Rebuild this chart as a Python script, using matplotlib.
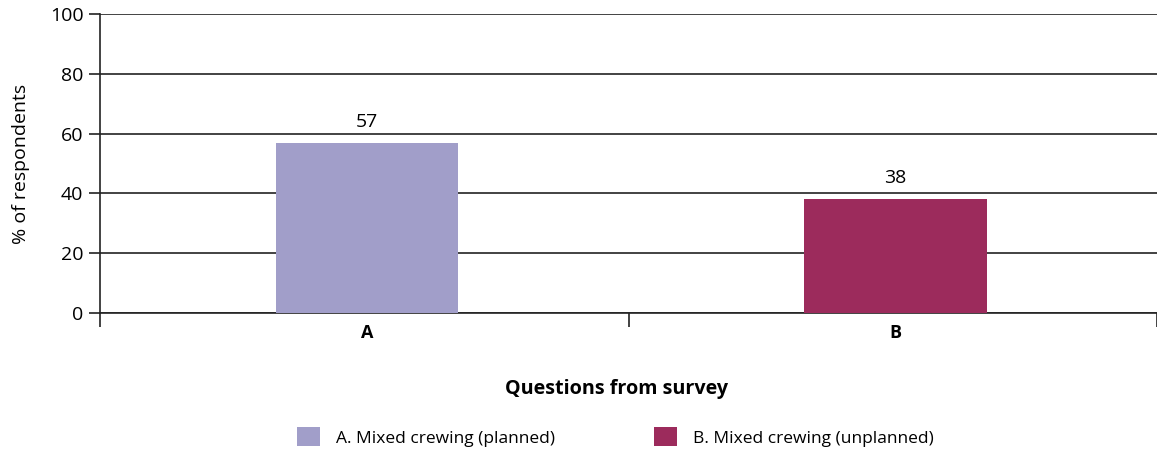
import matplotlib.pyplot as plt
from matplotlib.patches import Patch

plt.rcParams['font.family'] = ['Open Sans', 'DejaVu Sans']

categories = ['A', 'B']
values = [57, 38]
legend_labels = ['A. Mixed crewing (planned)', 'B. Mixed crewing (unplanned)']
colors = ['#a19ec9', '#9c2b5c']

fig = plt.figure(figsize=(11.57, 4.54), dpi=100)
ax = fig.add_axes([100 / 1157, 1 - 313 / 454, 1057 / 1157, 299 / 454])

x = range(len(categories))
bars = ax.bar([i + 0.005 for i in x], values, width=0.345, color=colors, zorder=3)
for b, v in zip(bars, values):
    ax.text(b.get_x() + b.get_width() / 2, v + 4, str(v),
            ha='center', va='bottom', fontsize=14)

ax.set_xlim(-0.5, 1.5)
ax.set_ylim(0, 100)
ax.set_yticks(range(0, 101, 20))
ax.yaxis.grid(True, color='#222222', linewidth=1.2, zorder=0)
ax.tick_params(axis='y', length=8, width=1.2, labelsize=14, color='#222222', pad=4)

# category ticks sit between the bars, labels at bar centres
ax.set_xticks([-0.5, 0.5, 1.5])
ax.set_xticklabels([])
ax.set_xticks([i + 0.005 for i in x], minor=True)
ax.set_xticklabels(categories, minor=True, fontweight='bold', fontsize=13)
ax.tick_params(axis='x', which='major', length=10, width=1.2, color='#222222')
ax.tick_params(axis='x', which='minor', length=0, pad=8)

for s in ['top', 'right']:
    ax.spines[s].set_visible(False)
ax.spines['left'].set_color('#222222')
ax.spines['left'].set_linewidth(1.2)
ax.spines['bottom'].set_color('#222222')
ax.spines['bottom'].set_linewidth(1.2)

ax.set_ylabel('% of respondents', fontsize=14, labelpad=14)
ax.set_xlabel('Questions from survey', fontsize=14.2, fontweight='bold')
ax.xaxis.set_label_coords(0.489, -0.222)

handles = [Patch(facecolor=c, label=l) for c, l in zip(colors, legend_labels)]
fig.legend(handles=handles, loc='center', bbox_to_anchor=(0.532, 1 - 437 / 454),
           ncol=2, frameon=False, fontsize=12.5, handlelength=1.32, handleheight=1.32,
           columnspacing=5.7, handletextpad=0.92)

fig.savefig('out.png', dpi=100)
